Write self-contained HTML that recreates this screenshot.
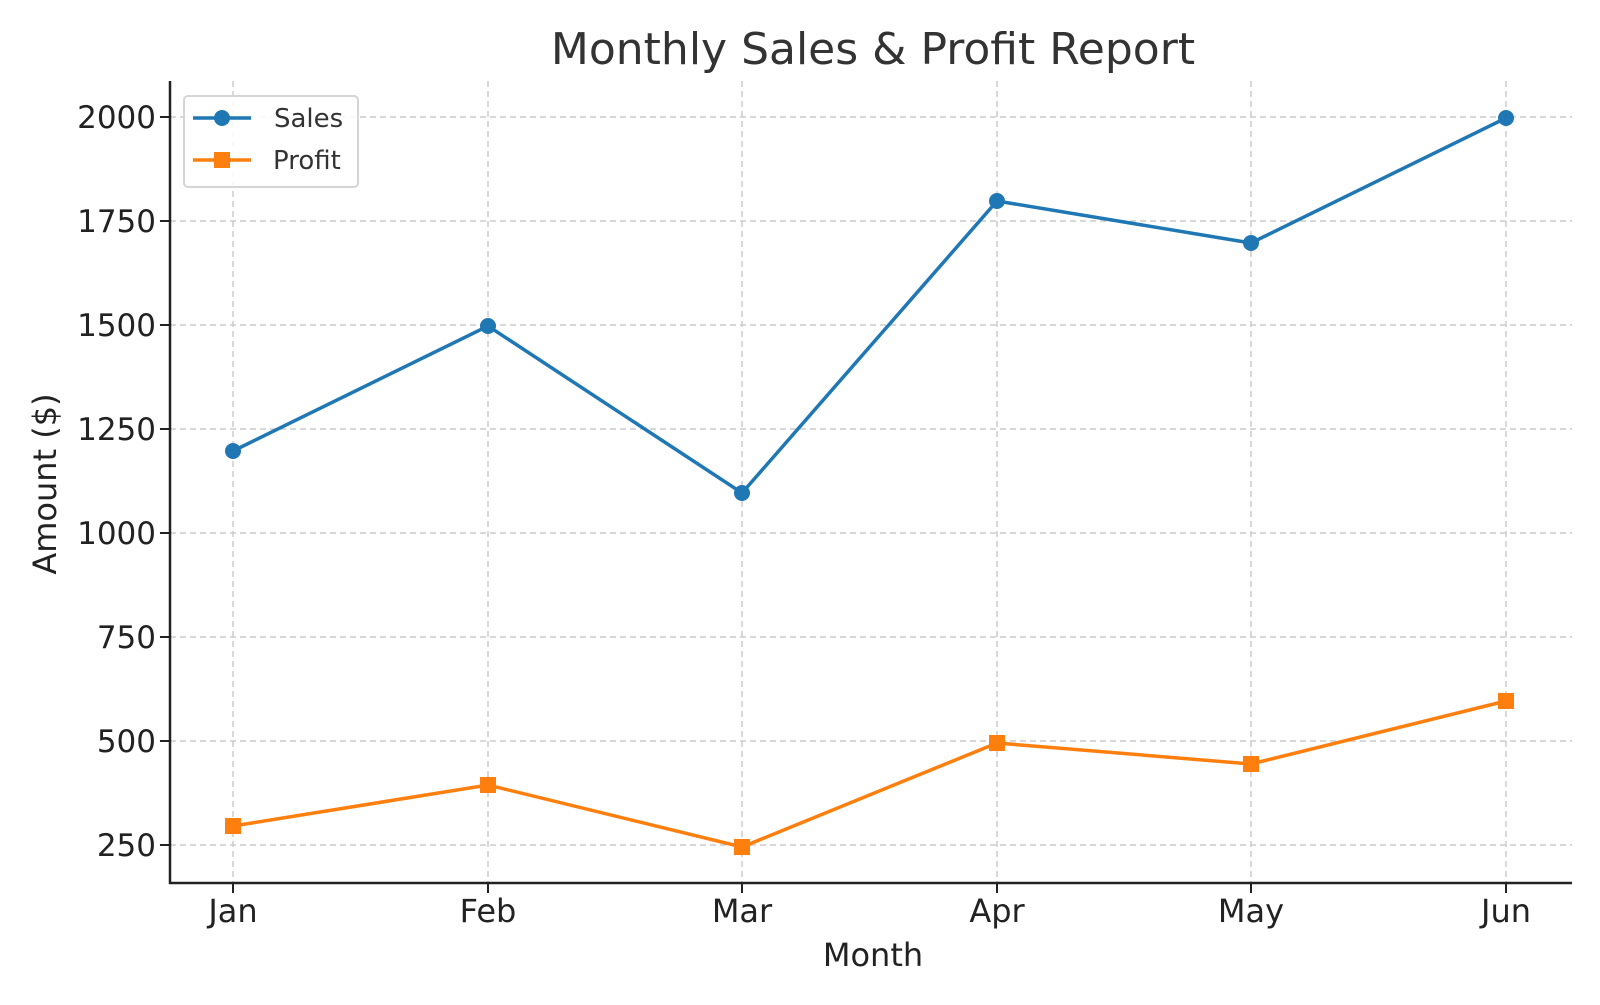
<!DOCTYPE html>
<html><head><meta charset="utf-8"><style>body{margin:0;background:#fff}</style></head><body>
<svg width="1600" height="1000" xmlns="http://www.w3.org/2000/svg" font-family="DejaVu Sans, Liberation Sans, sans-serif">
<rect width="1600" height="1000" fill="#fff"/>
<text x="873" y="64" font-size="44" fill="#333" text-anchor="middle">Monthly Sales &amp; Profit Report</text>
<g stroke="#ccc" stroke-width="1.5" stroke-dasharray="6,4">
<line x1="233" y1="81" x2="233" y2="883"/><line x1="488" y1="81" x2="488" y2="883"/><line x1="742" y1="81" x2="742" y2="883"/><line x1="997" y1="81" x2="997" y2="883"/><line x1="1251" y1="81" x2="1251" y2="883"/><line x1="1506" y1="81" x2="1506" y2="883"/>
<line x1="170" y1="117" x2="1572" y2="117"/><line x1="170" y1="221" x2="1572" y2="221"/><line x1="170" y1="325" x2="1572" y2="325"/><line x1="170" y1="429" x2="1572" y2="429"/><line x1="170" y1="533" x2="1572" y2="533"/><line x1="170" y1="637" x2="1572" y2="637"/><line x1="170" y1="741" x2="1572" y2="741"/><line x1="170" y1="845" x2="1572" y2="845"/>
</g>
<g stroke="#222" stroke-width="2.5"><line x1="170" y1="81" x2="170" y2="884"/><line x1="169" y1="883" x2="1572" y2="883"/></g>
<g stroke="#222" stroke-width="2">
<line x1="160" y1="117" x2="170" y2="117"/><line x1="160" y1="221" x2="170" y2="221"/><line x1="160" y1="325" x2="170" y2="325"/><line x1="160" y1="429" x2="170" y2="429"/><line x1="160" y1="533" x2="170" y2="533"/><line x1="160" y1="637" x2="170" y2="637"/><line x1="160" y1="741" x2="170" y2="741"/><line x1="160" y1="845" x2="170" y2="845"/>
<line x1="233" y1="883" x2="233" y2="893"/><line x1="488" y1="883" x2="488" y2="893"/><line x1="742" y1="883" x2="742" y2="893"/><line x1="997" y1="883" x2="997" y2="893"/><line x1="1251" y1="883" x2="1251" y2="893"/><line x1="1506" y1="883" x2="1506" y2="893"/>
</g>
<g font-size="31" fill="#222" text-anchor="end">
<text x="156" y="128">2000</text><text x="156" y="232">1750</text><text x="156" y="336">1500</text><text x="156" y="440">1250</text><text x="156" y="544">1000</text><text x="156" y="648">750</text><text x="156" y="752">500</text><text x="156" y="856">250</text>
</g>
<g font-size="32" fill="#222" text-anchor="middle">
<text x="233" y="922">Jan</text><text x="488" y="922">Feb</text><text x="742" y="922">Mar</text><text x="997" y="922">Apr</text><text x="1251" y="922">May</text><text x="1506" y="922">Jun</text>
<text x="873" y="966">Month</text>
<text transform="translate(56,484) rotate(-90)">Amount ($)</text>
</g>
<polyline fill="none" stroke="#1f77b4" stroke-width="3.5" points="233,451 488,326 742,493 997,201 1251,243 1506,118"/>
<g fill="#1f77b4"><circle cx="233" cy="451" r="8"/><circle cx="488" cy="326" r="8"/><circle cx="742" cy="493" r="8"/><circle cx="997" cy="201" r="8"/><circle cx="1251" cy="243" r="8"/><circle cx="1506" cy="118" r="8"/></g>
<polyline fill="none" stroke="#ff7f0e" stroke-width="3.5" points="233,826 488,785 742,847 997,743 1251,764 1506,701"/>
<g fill="#ff7f0e"><rect x="225" y="818" width="16" height="16"/><rect x="480" y="777" width="16" height="16"/><rect x="734" y="839" width="16" height="16"/><rect x="989" y="735" width="16" height="16"/><rect x="1243" y="756" width="16" height="16"/><rect x="1498" y="693" width="16" height="16"/></g>
<rect x="184" y="96" width="174" height="91" rx="4" fill="#fff" fill-opacity="0.85" stroke="#d5d5d5" stroke-width="2"/>
<line x1="193" y1="118" x2="251" y2="118" stroke="#1f77b4" stroke-width="3.5"/><circle cx="222" cy="118" r="8" fill="#1f77b4"/>
<line x1="193" y1="160" x2="251" y2="160" stroke="#ff7f0e" stroke-width="3.5"/><rect x="214" y="152" width="16" height="16" fill="#ff7f0e"/>
<g font-size="26" fill="#333"><text x="274" y="127">Sales</text><text x="273" y="169">Profit</text></g>
</svg>
</body></html>
